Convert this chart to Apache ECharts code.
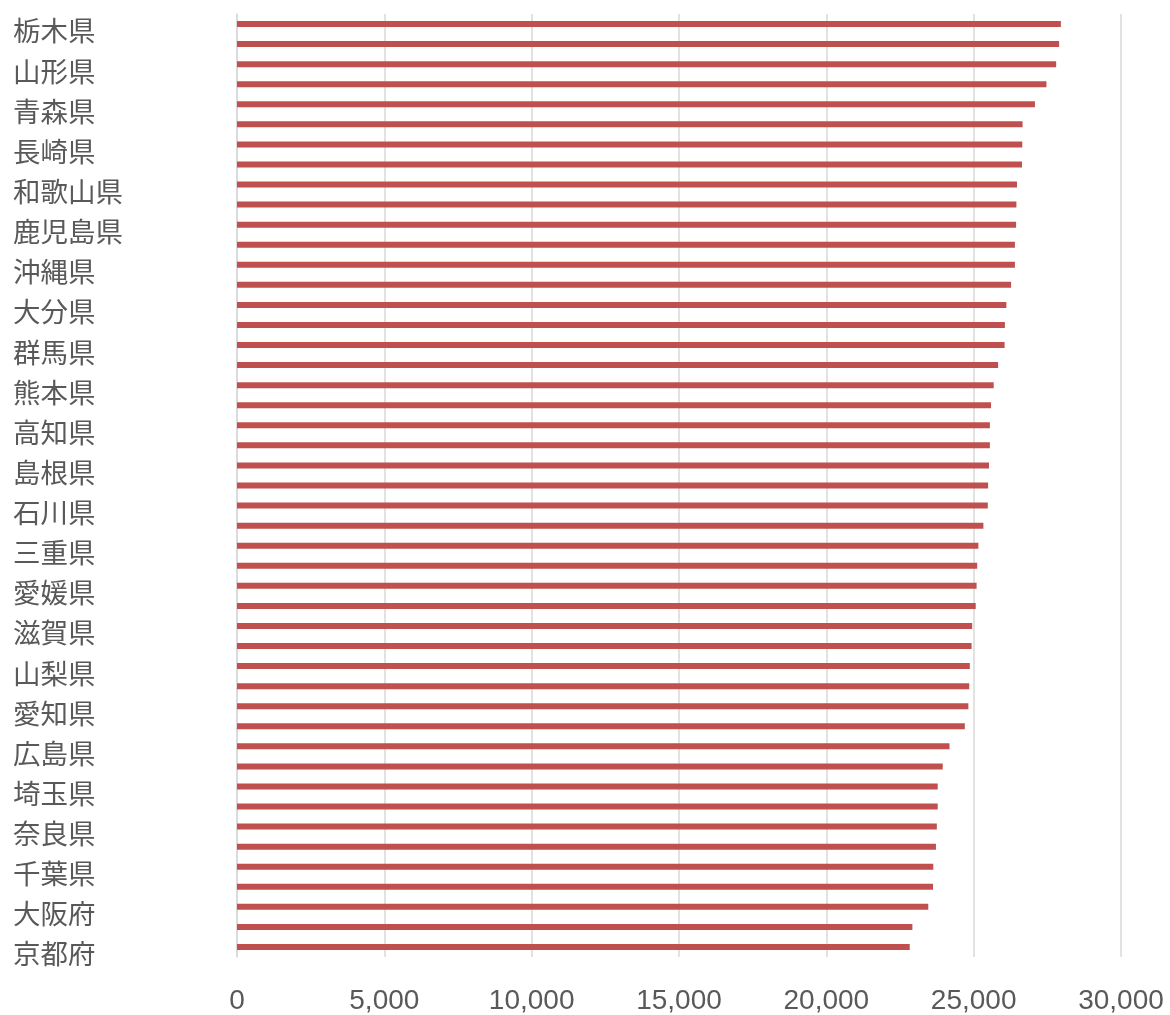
<!DOCTYPE html>
<html>
<head>
<meta charset="utf-8">
<script src="https://cdn.jsdelivr.net/npm/echarts@6/dist/echarts.min.js"></script>
<style>
html,body{margin:0;padding:0;background:#fff;}
#chart{width:1170px;height:1015px;}
</style>
</head>
<body>
<div id="chart"></div>
<script>
// Categories (top to bottom)
const prefectures = [
  '栃木県','岩手県','山形県','秋田県','青森県','福島県','長崎県','宮崎県',
  '和歌山県','佐賀県','鹿児島県','徳島県','沖縄県','鳥取県','大分県','山口県',
  '群馬県','茨城県','熊本県','新潟県','高知県','長野県','島根県','岐阜県',
  '石川県','福井県','三重県','富山県','愛媛県','香川県','滋賀県','岡山県',
  '山梨県','静岡県','愛知県','北海道','広島県','福岡県','埼玉県','宮城県',
  '奈良県','兵庫県','千葉県','神奈川県','大阪府','東京都','京都府'
];
// Values
const values = [
  27960,27900,27800,27470,27080,26660,26650,26640,
  26470,26450,26440,26400,26400,26270,26110,26060,
  26050,25830,25680,25590,25550,25550,25520,25490,
  25480,25330,25160,25120,25100,25070,24950,24930,
  24870,24850,24820,24700,24180,23950,23780,23780,
  23750,23720,23630,23620,23460,22920,22830
];
// Axis ticks
const xTicks = [0, 5000, 10000, 15000, 20000, 25000, 30000];

const chart = echarts.init(document.getElementById('chart'));
chart.setOption({
  animation: false,
  grid: { left: 237, right: 49, top: 14, bottom: 58, containLabel: false },
  xAxis: {
    type: 'value',
    min: xTicks[0],
    max: xTicks[xTicks.length - 1],
    interval: xTicks[1] - xTicks[0],
    axisLine: { show: false },
    axisTick: { show: false },
    splitLine: { show: true, lineStyle: { color: '#d9d9d9', width: 1.5 } },
    axisLabel: {
      color: '#595959',
      fontSize: 28,
      fontFamily: 'Liberation Sans, Arial, sans-serif',
      margin: 30,
      formatter: v => v.toLocaleString('en-US')
    }
  },
  yAxis: {
    type: 'category',
    data: prefectures,
    inverse: true,
    axisLine: { show: true, lineStyle: { color: '#d9d9d9', width: 1.5 } },
    axisTick: { show: false },
    splitLine: { show: false },
    axisLabel: {
      interval: 1,
      align: 'left',
      verticalAlign: 'top',
      lineHeight: 14,
      margin: 224,
      color: '#595959',
      fontSize: 27.5,
      fontFamily: 'Noto Sans CJK JP, sans-serif'
    }
  },
  series: [{
    type: 'bar',
    data: values,
    barWidth: 6,
    itemStyle: { color: '#c0504d' }
  }]
});
</script>
</body>
</html>
